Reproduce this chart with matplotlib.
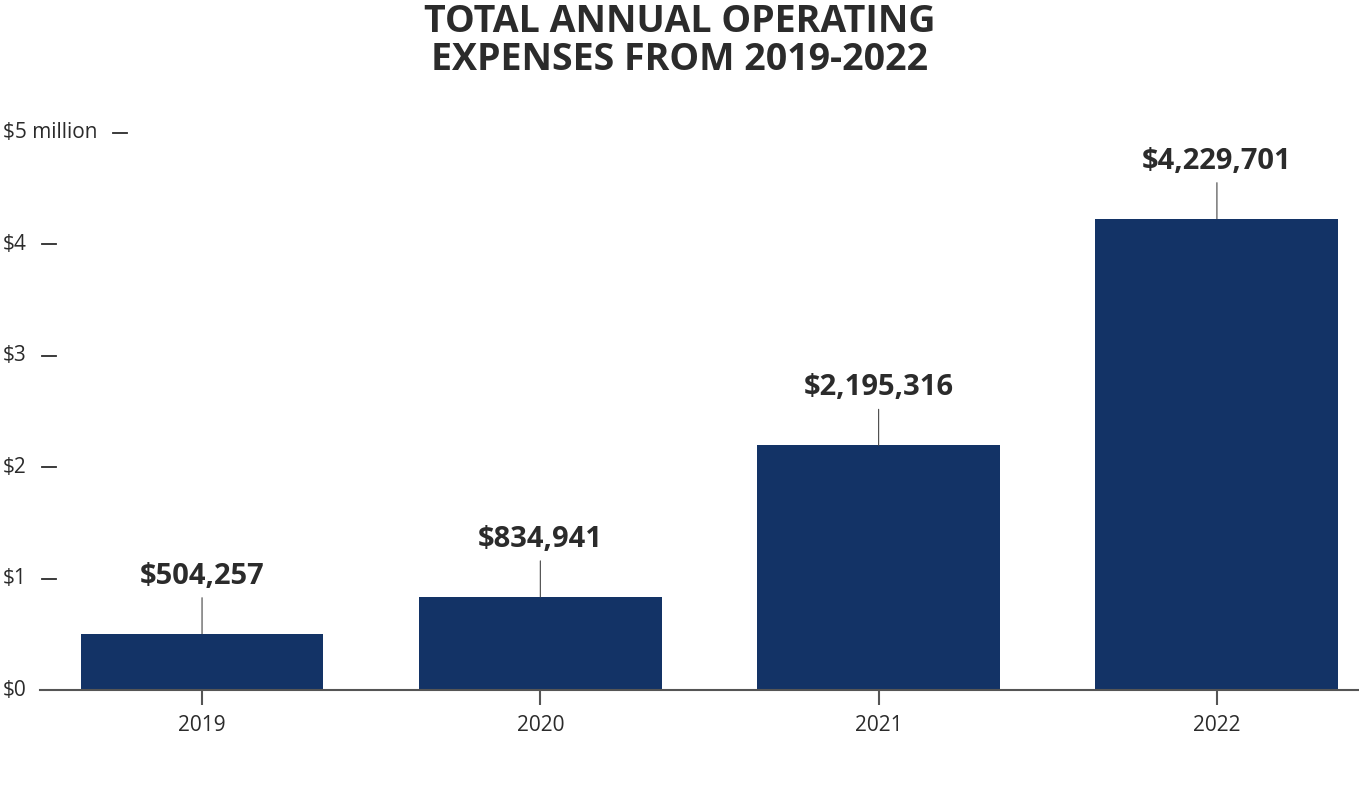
import matplotlib
matplotlib.use('Agg')
import matplotlib.pyplot as plt

# データ
years = ['2019', '2020', '2021', '2022']
expenses = [504257, 834941, 2195316, 4229701]
value_labels = ['$504,257', '$834,941', '$2,195,316', '$4,229,701']
ytick_vals = [1, 2, 3, 4, 5]
ytick_labels = ['$1', '$2', '$3', '$4', '$5 million']
title = 'TOTAL ANNUAL OPERATING\nEXPENSES FROM 2019-2022'

bar_color = '#133366'
text_color = '#2b2b2b'
font = ['Open Sans', 'DejaVu Sans']

W, H = 1359, 801
fig = plt.figure(figsize=(W / 100, H / 100), dpi=100)
ax = fig.add_axes([40 / W, 111 / H, 1 - 40 / W, 557 / H])

millions = [v / 1e6 for v in expenses]
x = list(range(len(years)))
ax.bar(x, millions, width=0.718, color=bar_color, zorder=2)

ax.set_xlim(-0.479, 3.42)
ax.set_ylim(0, 5)

for s in ['top', 'right', 'left']:
    ax.spines[s].set_visible(False)
ax.spines['bottom'].set_color('#555555')
ax.spines['bottom'].set_linewidth(1.5)

ax.set_yticks([])
ax.set_xticks(x)
ax.set_xticklabels(years, fontsize=15, color=text_color, family=font)
ax.tick_params(axis='x', length=11, width=1.5, color='#555555', pad=7)

# 値ラベルと引き出し線
for i, v in enumerate(millions):
    ax.annotate('', xy=(i, v), xytext=(0, 26), textcoords='offset points',
                arrowprops=dict(arrowstyle='-', lw=0.8, color='#444444',
                                shrinkA=0, shrinkB=0))
    ax.annotate(value_labels[i], xy=(i, v), xytext=(0, 36),
                textcoords='offset points', ha='center', va='baseline',
                fontsize=21, fontweight='bold', color=text_color, family=font)

# y軸ラベル(ラベルの右にダッシュ)
lab_x = -37 / (W - 40)
ax.text(lab_x, 0, '$0', transform=ax.get_yaxis_transform(), ha='left',
        va='center', fontsize=15, color=text_color, family=font)
fig.canvas.draw()
renderer = fig.canvas.get_renderer()
inv = ax.transAxes.inverted()
for val, lab in zip(ytick_vals, ytick_labels):
    t = ax.text(lab_x, val, lab, transform=ax.get_yaxis_transform(),
                ha='left', va='center', fontsize=15, color=text_color, family=font)
    bb = t.get_window_extent(renderer=renderer)
    x0 = inv.transform((bb.x1 + 15, 0))[0]
    x1 = inv.transform((bb.x1 + 29, 0))[0]
    ax.plot([x0, x1], [val, val], transform=ax.get_yaxis_transform(),
            color=text_color, lw=1.3, clip_on=False)

fig.text(0.5, 1 - 41 / H, title, ha='center', va='center', fontsize=27,
         fontweight='bold', color=text_color, family=font, linespacing=1.0)

fig.savefig('out.png', dpi=100)
